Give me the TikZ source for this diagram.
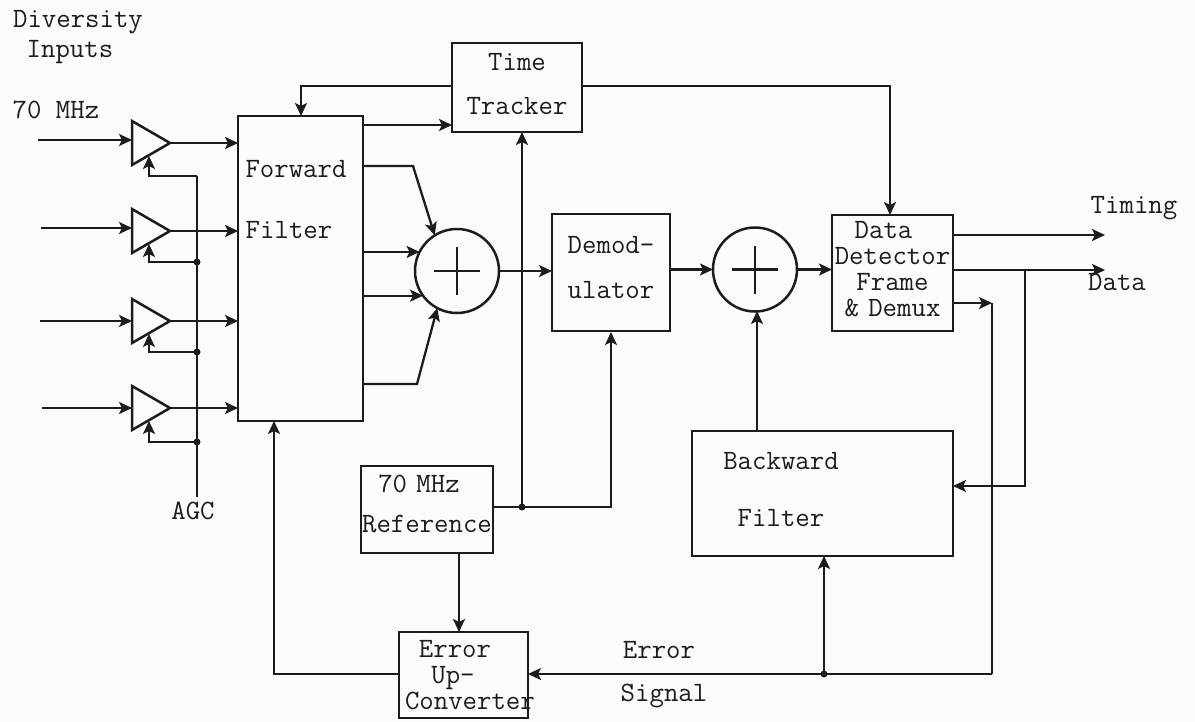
\documentclass[tikz,border=0pt]{standalone}
\usetikzlibrary{arrows.meta,calc,shapes.geometric}
\definecolor{ink}{HTML}{1C1C1C}
\definecolor{paper}{HTML}{FBFBF9}
\tikzset{
  every node/.style={text=ink},
  wire/.style={draw=ink,line width=2.3pt},
  arr/.style={wire,-{Stealth[length=13pt,width=12pt,inset=3pt]}},
  box/.style 2 args={draw=ink,line width=2.5pt,anchor=north west,minimum width=#1,minimum height=#2,text width=#1,align=center,inner sep=0pt,outer sep=0pt,font=\fontsize{28}{26}\selectfont\ttfamily},
  lbl/.style={inner sep=0pt,font=\fontsize{28}{26}\selectfont\ttfamily},
  sum/.style={circle,draw=ink,line width=2.5pt,minimum size=84pt,inner sep=0pt,outer sep=0pt},
  amp/.style={isosceles triangle,isosceles triangle stretches,draw=ink,line width=2.5pt,minimum width=44pt,minimum height=38pt,inner sep=0pt,outer sep=0pt,anchor=apex},
  dot/.style={circle,fill=ink,minimum size=7pt,inner sep=0pt,outer sep=0pt},
  plus/.style={draw=ink,line width=2.5pt}
}
\begin{document}
\begin{tikzpicture}[x=1pt,y=-1pt]
\fill[paper] (0,0) rectangle (1195,721);
\useasboundingbox (0,0) rectangle (1195,721);
% boxes
\node[box={125}{305}] (ff) at (238,116) {};
\node[box={130}{89}] (tt) at (452,43) {Time\\[18pt]Tracker\par\vspace{6pt}};
\node[box={118}{117}] (dm) at (552,214) {Demod-\\[19pt]ulator\par\vspace{10pt}};
\node[box={121}{116}] (dd) at (832,215) {Data\hspace{18pt}\mbox{}\\Detector\\Frame\\\&~Demux\par\vspace{7pt}};
\node[box={261}{125}] (bf) at (692,431) {};
\node[box={132}{87}] (rf) at (361,466) {70~MHz\hspace{16pt}\mbox{}\\[14pt]Reference\par\vspace{12pt}};
\node[box={129}{86}] (ec) at (399,632) {Error\hspace{17pt}\mbox{}\\Up-\hspace{21pt}\mbox{}\\\hspace*{6pt}Converter};
\node[sum] (s1) at (457,271) {};
\node[sum] (s2) at (755,269.5) {};
\node[amp] (a1) at (170,143) {};
\node[amp] (a2) at (170,231) {};
\node[amp] (a3) at (170,321) {};
\node[amp] (a4) at (170,408) {};
% labels
\node[lbl] (l1) at (78,22) {Diversity};
\node[lbl] (l2) at (70,52) {Inputs};
\node[lbl] (l3) at (56,110) {70 MHz};
\node[lbl] (l4) at (296,169) {Forward};
\node[lbl] (l5) at (289,230) {Filter};
\node[lbl] (agc) at (193,511) {AGC};
\node[lbl] (l6) at (781,461) {Backward};
\node[lbl] (l7) at (781,518) {Filter};
\node[lbl] (l8) at (659,650) {Error};
\node[lbl] (l9) at (664,696) {Signal};
\node[lbl] (l10) at (1134,208) {Timing};
\node[lbl] (l11) at (1117,282) {Data};
% plus signs
\draw[plus] ($(s1)+(-23,0)$) -- ($(s1)+(23,0)$) ($(s1)+(0,-24)$) -- ($(s1)+(0,24)$);
\draw[plus] ($(s2)+(-23,0)$) -- ($(s2)+(23,0)$) ($(s2)+(0,-24)$) -- ($(s2)+(0,24)$);
% free ends
\coordinate (i1) at (38,140);
\coordinate (i2) at (41,228);
\coordinate (i3) at (40,321);
\coordinate (i4) at (42,408);
\coordinate (to1) at (1105,235);
\coordinate (to2) at (1105,270);
% amplifier inputs and outputs
\draw[arr] (i1) -- (i1 -| a1.west);
\draw[arr] (i2) -- (i2 -| a2.west);
\draw[arr] (i3) -- (i3 -| a3.west);
\draw[arr] (i4) -- (i4 -| a4.west);
\draw[arr] (a1.apex) -- (a1.apex -| ff.west);
\draw[arr] (a2.apex) -- (a2.apex -| ff.west);
\draw[arr] (a3.apex) -- (a3.apex -| ff.west);
\draw[arr] (a4.apex) -- (a4.apex -| ff.west);
% AGC bus
\coordinate (ag1) at (197,176);
\coordinate (ag2) at (197,262);
\coordinate (ag3) at (197,352);
\coordinate (ag4) at (197,442);
\draw[wire] (ag1) -- (197,497);
\node[dot] (d2) at (ag2) {};
\node[dot] (d3) at (ag3) {};
\node[dot] (d4) at (ag4) {};
\draw[arr] (ag1) -- (149,176) -- ($(a1.apex)+(-21,13)$);
\draw[arr] (d2) -- (149,262) -- ($(a2.apex)+(-21,13)$);
\draw[arr] (d3) -- (149,352) -- ($(a3.apex)+(-21,13)$);
\draw[arr] (d4) -- (149,442) -- ($(a4.apex)+(-21,13)$);
% forward filter outputs
\draw[arr] (ff.east |- 0,125) -- (tt.west |- 0,125);
\draw[arr] (ff.east |- 0,166) -- (413,166) -- (s1.122);
\draw[arr] (ff.east |- s1.153) -- (s1.153);
\draw[arr] (ff.east |- s1.216) -- (s1.216);
\draw[arr] (ff.east |- 0,384) -- (417,384) -- (s1.242);
% main path
\draw[arr] (s1.east) -- (dm.west |- s1.east);
\draw[arr] (dm.east |- s2.west) -- (s2.west);
\draw[arr] (s2.east) -- (dd.west |- s2.east);
% tracker
\draw[arr] (tt.west |- 0,86) -- (301,86) -- (301,116);
\draw[arr] (tt.east |- 0,86) -- (890,86) -- (890,215);
% detector outputs
\draw[arr] (dd.east |- to1) -- (to1);
\draw[arr] (dd.east |- to2) -- (to2);
\draw[arr] (dd.east |- 0,303) -- (992,303);
\draw[wire] (992,303) -- (992,674);
\coordinate (j1) at (1025,270);
\draw[arr] (j1) -- (1025,486) -- (bf.east |- 0,486);
\draw[arr] (bf.north -| 757,0) -- (757,311);
% error signal
\coordinate (e0) at (992,674);
\node[dot] (j2) at (824,674) {};
\draw[arr] (e0) -- (ec.east |- e0);
\draw[arr] (j2) -- (j2 |- bf.south);
\draw[arr] (ec.west |- e0) -- (274,674) -- (274,421);
% reference
\node[dot] (j3) at (522,507) {};
\draw[arr] (rf.east |- j3) -- (611,507) -- (611,332);
\draw[arr] (j3) -- (522,132);
\draw[arr] (459,553) -- (459,632);
\end{tikzpicture}
\end{document}
